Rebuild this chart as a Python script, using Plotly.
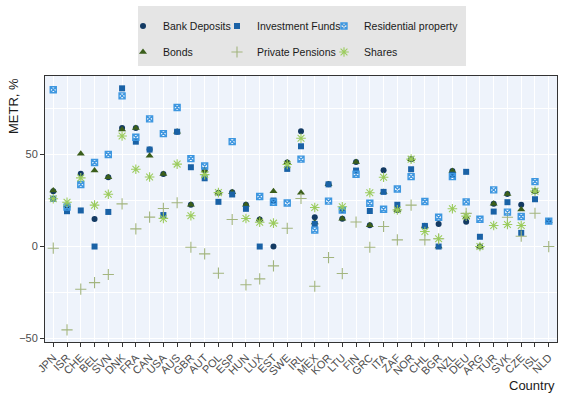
import plotly.graph_objects as go

countries = ["JPN","ISR","CHE","BEL","SVN","DNK","FRA","CAN","USA","AUS","GBR","AUT","POL","ESP",
             "HUN","LUX","EST","SWE","IRL","MEX","KOR","LTU","FIN","GRC","ITA","ZAF","NOR","CHL",
             "BGR","NZL","DEU","ARG","TUR","SVK","CZE","ISL","NLD"]

bank_deposits = [30, 22.3, 39.5, 15, 37.7, 64.5, 64.5, 52.7, 39.4, 62.4, 22.7, 41.3, 29.3, 29.5,
                 22.7, 14.7, 0, 45.7, 62.7, 15.9, 33.8, 15.1, 46, 11.6, 41.5, 19.9, 47.5, 11.2,
                 12.3, 41, 13.5, 0, 23.2, 28.6, 22.7, 30.1, 13.8]
bonds = [30.4, 22.3, 50.4, 41.3, 37.7, 63.6, 64.5, 49.3, 39.4, 62.4, 22.7, 41.3, 29.3, 29.5,
         22.7, 14.7, 30.1, 45.7, 29.3, 13, 33.8, 15.1, 46, 11.6, 29.7, 19.9, 47.5, 11.2,
         0, 41, 16, 0, 23.2, 28.6, 20.1, 30.1, 13.8]
investment_funds = [26, 19.2, 19.6, 0, 18.8, 86, 57, 52.7, 17.1, 62.4, 43.1, 37.1, 24.3, 28.3,
                    20.5, 0, 25, 42.2, 54.5, 12.3, 33.8, 19.8, 41.3, 19.3, 29.7, 22.7, 42, 11.2,
                    0, 39, 40.6, 5.3, 19, 24.1, 7.4, 25.7, 13.8]
private_pensions = [-0.9, -45.3, -23.2, -19.6, -15.2, 23.2, 9.6, 16, 20.7, 23.8, -0.4, -4, -14.5, 14.7,
                    -20.8, -17.6, -10.5, 9.9, 26.1, -21.6, -6, -14.7, 13.3, -0.4, 10.9, 3.6, 22.5, 3.6,
                    4.2, None, 18, None, None, 15.9, 5.6, 18.1, 0]
residential_property = [85.2, 21.4, 33.7, 45.7, 50, 81.9, 59.4, 69.4, 61.4, 75.6, 47.8, 43.8, None, 57,
                        None, 27.2, 24.1, 23.7, 47.5, 8.9, 24.7, 19.8, 39.3, 23.5, 20.3, 31.3, 38, 24.5,
                        15.9, 38, 24.3, 14.8, 30.8, 18.7, 16.3, 35.3, 13.8]
shares = [26, 24.1, 37.3, 22.5, 28.4, 60.1, 42, 37.8, 15.3, 44.8, 16.7, 39.1, 29.3, None,
          15.2, 13.2, 12.7, 44.6, 58.9, 21.2, None, 21.6, None, 29.2, 37.7, 19.9, 47.5, 8.2,
          4.2, 20.5, 16.5, 0, 11.4, 12, 11.4, 30.1, None]

series = [
    ("Bank Deposits", bank_deposits, "circle", "#133a63", 6, None, "legend"),
    ("Bonds", bonds, "triangle-up", "#3b5e1b", 7, None, "legend4"),
    ("Investment Funds", investment_funds, "square", "#1a62a6", 6, None, "legend2"),
    ("Private Pensions", private_pensions, "cross-thin-open", "#a3b57f", 8, 1.1, "legend5"),
    ("Residential property", residential_property, "square-x-open", "#3e97e0", 6, 1.4, "legend3"),
    ("Shares", shares, "asterisk-open", "#9ccc5e", 8, 1.1, "legend6"),
]

fig = go.Figure()
for name, vals, sym, col, size, lw, lg in series:
    marker = dict(symbol=sym, color=col, size=size)
    if lw is not None:
        marker["line"] = dict(color=col, width=lw)
    fig.add_trace(go.Scatter(x=countries, y=vals, mode="markers", name=name,
                             marker=marker, legend=lg, cliponaxis=False))

L, R, T, B = 45, 557, 76, 342
W, H = 564, 397
def px_x(p): return (p - L) / (R - L)
def px_y(p): return (B - p) / (B - T)

leg_font = dict(family="Liberation Sans, Arial, sans-serif", size=10.5, color="#1a1a1a")
legend_pos = {"legend": (123, 26), "legend2": (217, 26), "legend3": (324, 26),
              "legend4": (123, 52), "legend5": (217, 52), "legend6": (324, 52)}
legends = {}
for key, (lx, ly) in legend_pos.items():
    legends[key] = dict(x=px_x(lx), y=px_y(ly), xanchor="left", yanchor="middle",
                        orientation="h", bgcolor="rgba(0,0,0,0)", font=leg_font,
                        borderwidth=0)

fig.update_layout(
    width=W, height=H,
    margin=dict(l=L, r=W - R, t=T, b=H - B, autoexpand=False),
    paper_bgcolor="white", plot_bgcolor="#EEF3FB",
    font=dict(family="Liberation Sans, Arial, sans-serif", size=11, color="#4d4d4d"),
    showlegend=True,
    **legends,
)
fig.add_shape(type="rect", xref="paper", yref="paper",
              x0=px_x(138), x1=px_x(466), y0=px_y(6), y1=px_y(66),
              fillcolor="#E5E5E5", line=dict(width=0), layer="below")

fig.update_xaxes(range=[-0.6, 36.6], tickangle=-45, showgrid=True, gridcolor="white", gridwidth=1,
                 ticks="outside", ticklen=4, tickcolor="#333333", showline=True, mirror=True,
                 linecolor="#333333", linewidth=1, tickfont=dict(size=11, color="#4d4d4d"),
                 zeroline=False, automargin=False)
fig.update_yaxes(range=[-51.9, 92.7], tickvals=[-50, 0, 50], showgrid=True, gridcolor="white",
                 gridwidth=1.2, ticks="outside", ticklen=4, tickcolor="#333333", showline=True,
                 mirror=True, linecolor="#333333", linewidth=1, zeroline=False, automargin=False,
                 tickfont=dict(size=11, color="#4d4d4d"),
                 minor=dict(tickvals=[-25, 25, 75], showgrid=True, gridcolor="white", gridwidth=0.6))

fig.add_annotation(text="METR, %", xref="paper", yref="paper", x=px_x(13), y=px_y(106),
                   textangle=-90, showarrow=False, xanchor="center", yanchor="middle",
                   font=dict(size=13, color="#1a1a1a"))
fig.add_annotation(text="Country", xref="paper", yref="paper", x=px_x(557), y=px_y(386),
                   showarrow=False, xanchor="right", yanchor="middle",
                   font=dict(size=13, color="#1a1a1a"))

fig.write_html("out.html", config={"displayModeBar": False},
               post_script="document.body.style.margin='0';document.body.style.overflow='hidden';")
